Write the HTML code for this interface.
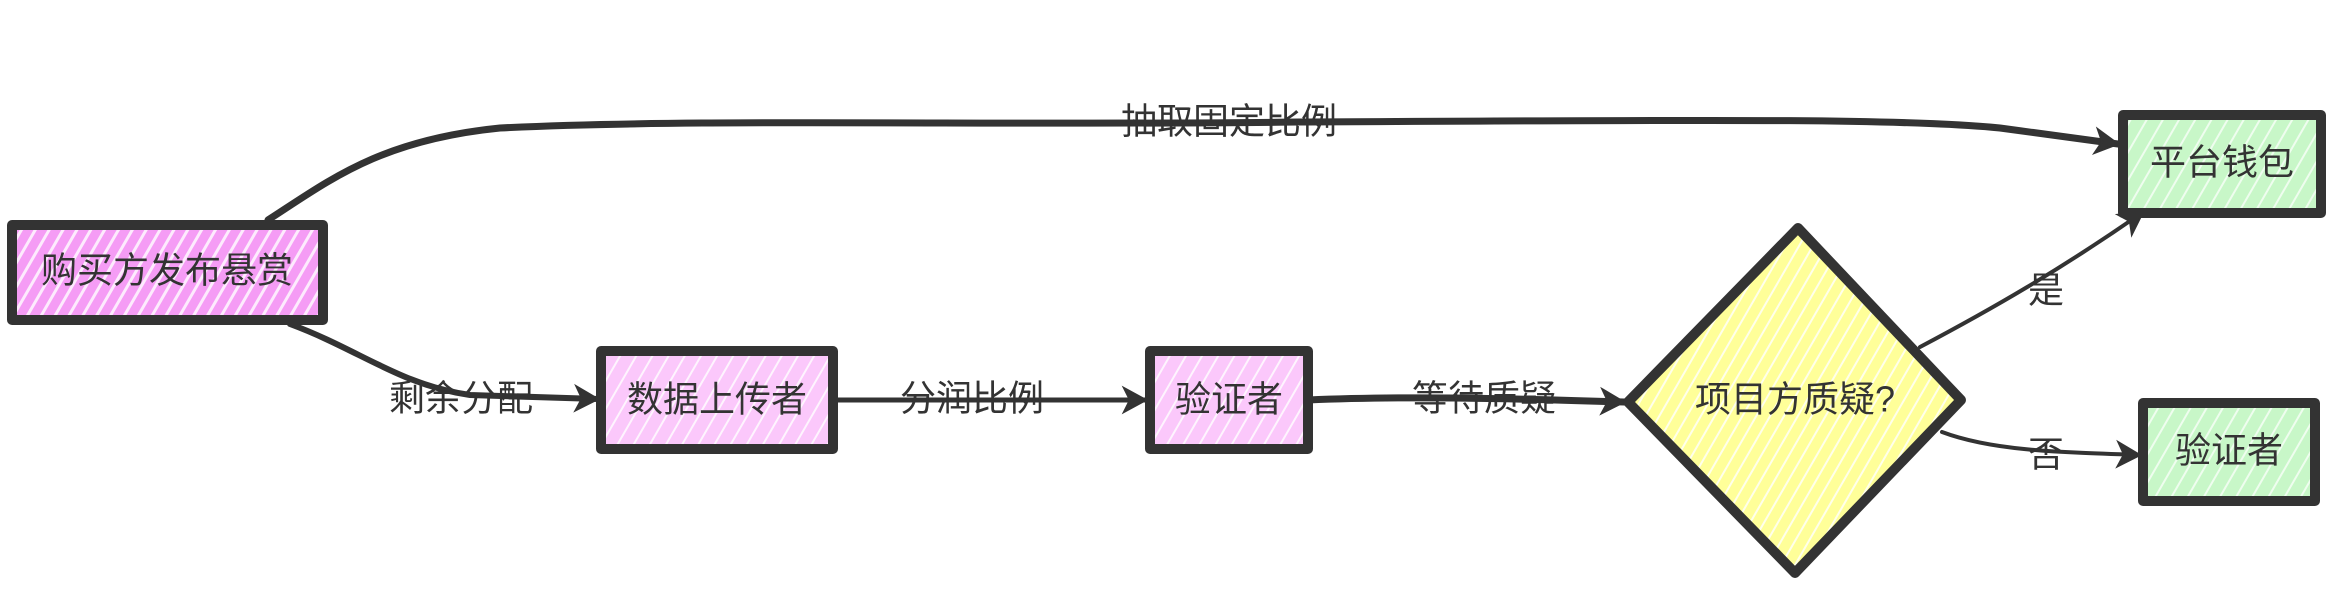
<!DOCTYPE html>
<html><head><meta charset="utf-8"><style>
html,body{margin:0;padding:0;background:#fff;}
svg{display:block}
text{font-family:"Liberation Sans","Noto Sans CJK SC",sans-serif;fill:#333;font-size:36px;}
</style></head><body>
<svg width="2334" height="608" viewBox="0 0 2334 608" xmlns="http://www.w3.org/2000/svg">
<defs>
<pattern id="hp" width="12" height="12" patternUnits="userSpaceOnUse" patternTransform="rotate(30)"><rect width="12" height="12" fill="#f59cf5"/><rect width="3" height="12" fill="#fff" opacity="0.8"/></pattern>
<pattern id="lp" width="14" height="14" patternUnits="userSpaceOnUse" patternTransform="rotate(30)"><rect width="14" height="14" fill="#fbc8fb"/><rect width="2" height="14" fill="#fff" opacity="0.8"/></pattern>
<pattern id="yp" width="12" height="12" patternUnits="userSpaceOnUse" patternTransform="rotate(30)"><rect width="12" height="12" fill="#ffff99"/><rect width="2" height="12" fill="#fff" opacity="0.8"/></pattern>
<pattern id="gp" width="14" height="14" patternUnits="userSpaceOnUse" patternTransform="rotate(30)"><rect width="14" height="14" fill="#c8f7c8"/><rect width="2" height="14" fill="#fff" opacity="0.7"/></pattern>
<marker id="ar" markerWidth="30" markerHeight="30" refX="26" refY="15" orient="auto" markerUnits="userSpaceOnUse"><path d="M4,3 L26,15 L4,27 L10,15 Z" fill="#333" stroke="#333" stroke-width="2"/></marker>
</defs>
<g fill="none" stroke="#333" stroke-width="5" stroke-linecap="round">
<path d="M268,220 C330,180 380,140 500,128 C700,118 1000,126 1300,122 C1700,120 1900,118 2000,128 L2118,144" marker-end="url(#ar)" stroke-width="7"/>
<path d="M290,324 C360,350 400,385 470,395 L598,399" marker-end="url(#ar)" stroke-width="6"/>
<path d="M833,400 L1146,400" marker-end="url(#ar)" stroke-width="5"/>
<path d="M1308,400 C1400,396 1500,398 1624,402" marker-end="url(#ar)" stroke-width="7"/>
<path d="M1920,347 C1990,310 2060,270 2143,212" marker-end="url(#ar)" stroke-width="4"/>
<path d="M1942,432 C1990,450 2050,452 2140,455" marker-end="url(#ar)" stroke-width="4"/>
</g>
<g stroke="#333" stroke-width="10" stroke-linejoin="round">
<rect x="12" y="225" width="311" height="95" fill="url(#hp)"/>
<rect x="601" y="351" width="232" height="98" fill="url(#lp)"/>
<rect x="1150" y="351" width="158" height="98" fill="url(#lp)"/>
<polygon points="1798,228 1961,400 1795,573 1628,402" fill="url(#yp)"/>
<rect x="2123" y="115" width="198" height="98" fill="url(#gp)"/>
<rect x="2143" y="403" width="172" height="98" fill="url(#gp)"/>
</g>
<g text-anchor="middle" dominant-baseline="central">
<text x="167" y="270">购买方发布悬赏</text>
<text x="717" y="399">数据上传者</text>
<text x="1229" y="399">验证者</text>
<text x="1795" y="399">项目方质疑?</text>
<text x="2222" y="162">平台钱包</text>
<text x="2229" y="450">验证者</text>
<text x="1229" y="121">抽取固定比例</text>
<text x="461" y="398">剩余分配</text>
<text x="972" y="398">分润比例</text>
<text x="1484" y="398">等待质疑</text>
<text x="2046" y="290">是</text>
<text x="2046" y="454">否</text>
</g>
</svg>
</body></html>
